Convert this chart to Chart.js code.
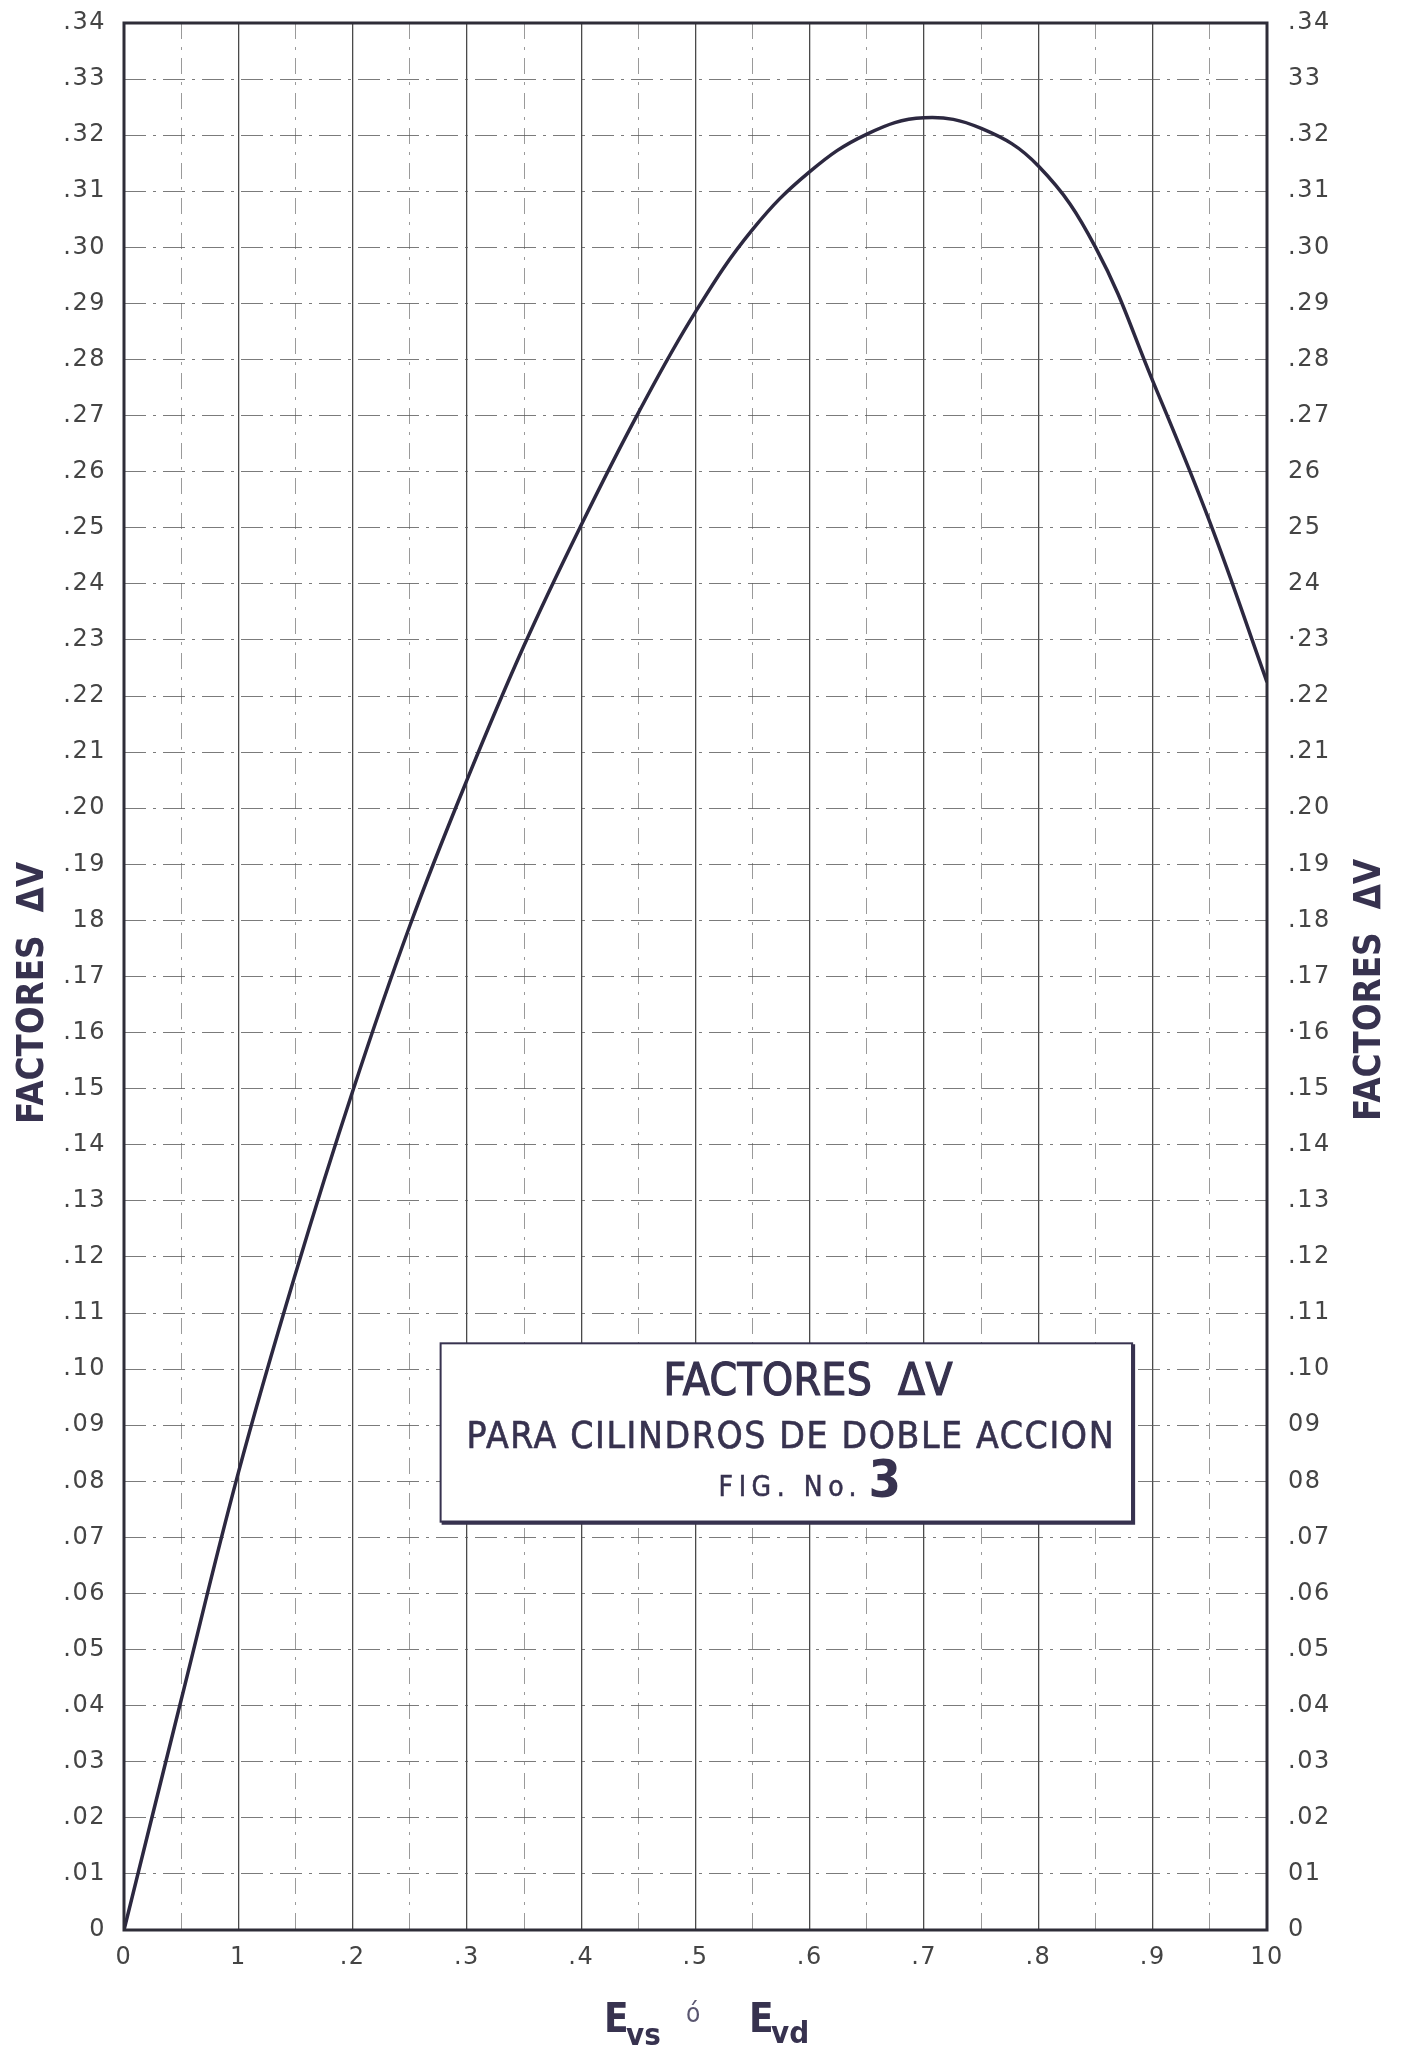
<!DOCTYPE html>
<html>
<head>
<meta charset="utf-8">
<script src="https://cdn.jsdelivr.net/npm/chart.js@4.4.1/dist/chart.umd.min.js"></script>
<style>
html,body{margin:0;padding:0;background:#fff;}
#wrap{width:1403px;height:2047px;position:relative;}
canvas{display:block;}
</style>
</head>
<body>
<div id="wrap"><canvas id="c" width="1403" height="2047"></canvas></div>
<script>
// ---- data ----
const xValues = [0, 0.05, 0.10, 0.15, 0.20, 0.25, 0.30, 0.35, 0.40, 0.45, 0.50, 0.55, 0.60, 0.65, 0.70, 0.75, 0.80, 0.85, 0.90, 0.95, 1.00];
const yValues = [0, 0.0410, 0.0815, 0.1170, 0.1495, 0.1790, 0.2050, 0.2290, 0.2505, 0.2705, 0.2885, 0.3032, 0.3135, 0.3202, 0.3231, 0.3212, 0.3145, 0.3000, 0.2762, 0.2510, 0.2225];
const xTickLabels = ['0', '1', '.2', '.3', '.4', '.5', '.6', '.7', '.8', '.9', '10'];
const yTickLabelsLeft = ['0', '.01', '.02', '.03', '.04', '.05', '.06', '.07', '.08', '.09', '.10', '.11', '.12', '.13', '.14', '.15', '.16', '.17', '18', '.19', '.20', '.21', '.22', '.23', '.24', '.25', '.26', '.27', '.28', '.29', '.30', '.31', '.32', '.33', '.34'];
const yTickLabelsRight = ['0', '01', '.02', '.03', '.04', '.05', '.06', '.07', '08', '09', '.10', '.11', '.12', '.13', '.14', '.15', '·16', '.17', '.18', '.19', '.20', '.21', '.22', '·23', '24', '25', '26', '.27', '.28', '.29', '.30', '.31', '.32', '33', '.34'];
const yAxisTitle = 'FACTORES  ΔV';
const xTitleMain = 'E';
const xTitleSub1 = 'vs';
const xTitleJoin = 'ó';
const xTitleSub2 = 'vd';
const boxTitle = 'FACTORES  ΔV';
const boxSubtitle = 'PARA CILINDROS DE DOBLE ACCION';
const boxFigLabel = 'FIG. No.';
const boxFigNumber = '3';

// ---- styling / layout ----
const INK = '#37324f';
const CURVE = '#2c2840';
const TICKFONT = '"DejaVu Sans", sans-serif';
const COND = '"DejaVu Sans Condensed", "Liberation Sans Narrow", "DejaVu Sans", sans-serif';
const BOX = {x0: 0.277, x1: 0.882, y0: 0.0728, y1: 0.1046};

const points = xValues.map((x, i) => ({x: x, y: yValues[i]}));

function fitText(ctx, text, cx, baseline, width) {
  ctx.letterSpacing = '0px';
  const m = ctx.measureText(text).width;
  ctx.save();
  ctx.translate(cx, baseline);
  ctx.scale(width / m, 1);
  ctx.textAlign = 'center';
  ctx.textBaseline = 'alphabetic';
  ctx.fillText(text, 0, 0);
  ctx.restore();
}

function spacedText(ctx, text, left, baseline, width, strokeW) {
  ctx.letterSpacing = '0px';
  const m = ctx.measureText(text).width;
  const n = text.length;
  const sp = (width - m) / (n - 1);
  ctx.save();
  ctx.textAlign = 'left';
  ctx.textBaseline = 'alphabetic';
  if (sp >= 0) {
    ctx.letterSpacing = sp.toFixed(2) + 'px';
    ctx.fillText(text, left, baseline);
    if (strokeW) { ctx.lineWidth = strokeW; ctx.strokeText(text, left, baseline); }
  } else {
    ctx.translate(left, baseline);
    ctx.scale(width / m, 1);
    ctx.fillText(text, 0, 0);
    if (strokeW) { ctx.lineWidth = strokeW; ctx.strokeText(text, 0, 0); }
  }
  ctx.restore();
  ctx.letterSpacing = '0px';
}

const spacingPlugin = {
  id: 'spacing',
  beforeDraw(chart) { chart.ctx.letterSpacing = '1.5px'; }
};

const decorPlugin = {
  id: 'decor',
  afterDatasetsDraw(chart) {
    const {ctx, chartArea: a, scales} = chart;
    ctx.save();
    ctx.letterSpacing = '0px';
    // frame
    ctx.strokeStyle = '#2e2d38';
    ctx.lineWidth = 3;
    ctx.strokeRect(a.left, a.top, a.right - a.left, a.bottom - a.top);

    // title box
    const bl = scales.x.getPixelForValue(BOX.x0), br = scales.x.getPixelForValue(BOX.x1);
    const bt = scales.y.getPixelForValue(BOX.y1), bb = scales.y.getPixelForValue(BOX.y0);
    ctx.fillStyle = '#fff';
    ctx.fillRect(bl, bt, br - bl, bb - bt);
    ctx.strokeStyle = INK;
    ctx.lineWidth = 2;
    ctx.strokeRect(bl, bt, br - bl, bb - bt);
    ctx.lineWidth = 4;
    ctx.beginPath();
    ctx.moveTo(br + 1, bt + 1);
    ctx.lineTo(br + 1, bb + 1);
    ctx.lineTo(bl + 1, bb + 1);
    ctx.stroke();

    ctx.fillStyle = INK;
    ctx.strokeStyle = INK;
    ctx.font = '44px ' + COND;
    spacedText(ctx, boxTitle, bl + 223, bt + 52, 289, 1.2);
    ctx.font = '37px ' + COND;
    spacedText(ctx, boxSubtitle, bl + 26, bt + 105, 647, 0.6);
    ctx.font = '28px ' + COND;
    spacedText(ctx, boxFigLabel, bl + 278, bt + 153, 138, 0.5);
    ctx.font = 'bold 52px ' + COND;
    ctx.textAlign = 'left';
    ctx.fillText(boxFigNumber, bl + 428, bt + 154);

    // y axis titles (left and right), reading bottom to top
    ctx.font = 'bold 38px ' + COND;
    [[29, 993], [1366, 990]].forEach(([cx, cy]) => {
      ctx.save();
      ctx.translate(cx, cy);
      ctx.rotate(-Math.PI / 2);
      fitText(ctx, yAxisTitle, 0, 14, 262);
      ctx.restore();
    });

    // x axis title: E_vs ó E_vd
    ctx.letterSpacing = '0px';
    ctx.textAlign = 'left';
    ctx.font = 'bold 40px ' + COND;
    ctx.fillText(xTitleMain, 604, 2032);
    ctx.fillText(xTitleMain, 749, 2032);
    ctx.font = 'bold 31px ' + COND;
    ctx.fillText(xTitleSub1, 626, 2045);
    ctx.fillText(xTitleSub2, 771, 2043);
    ctx.font = '26px ' + COND;
    ctx.fillStyle = '#5a5670';
    ctx.fillText(xTitleJoin, 686, 2022);
    ctx.restore();
  }
};

new Chart(document.getElementById('c'), {
  type: 'line',
  data: {
    datasets: [{
      data: points,
      borderColor: CURVE,
      borderWidth: 3.5,
      pointRadius: 0,
      fill: false,
      tension: 0.4
    }]
  },
  options: {
    responsive: false,
    animation: false,
    devicePixelRatio: 1,
    layout: {padding: {top: 23, left: 0, right: 0, bottom: 0}},
    plugins: {legend: {display: false}, tooltip: {enabled: false}, title: {display: false}},
    scales: {
      x: {
        type: 'linear', min: 0, max: 1, position: 'bottom',
        ticks: {
          stepSize: 0.1, padding: 13, color: '#444',
          font: {family: TICKFONT, size: 24},
          maxRotation: 0, autoSkip: false,
          callback: (v) => xTickLabels[Math.round(v * 10)]
        },
        grid: {color: '#4a4a4a', lineWidth: 1.3, drawTicks: false},
        border: {display: false},
        afterFit: (s) => { s.height = 117; s.paddingLeft = 0; s.paddingRight = 0; }
      },
      xMinor: {
        type: 'linear', min: 0, max: 1, position: 'bottom',
        ticks: {display: false, stepSize: 0.05},
        grid: {
          drawTicks: false, lineWidth: 1,
          color: (c) => (Math.round(c.tick.value * 20) % 2 === 1) ? 'rgba(120,120,120,0.75)' : 'rgba(0,0,0,0)'
        },
        border: {display: false, dash: [16, 8, 3, 8]},
        afterFit: (s) => { s.height = 0; s.paddingLeft = 0; s.paddingRight = 0; }
      },
      y: {
        type: 'linear', min: 0, max: 0.34, position: 'left',
        ticks: {
          stepSize: 0.01, padding: 18, color: '#444',
          font: {family: TICKFONT, size: 24},
          autoSkip: false,
          callback: (v) => yTickLabelsLeft[Math.round(v * 100)]
        },
        grid: {color: 'rgba(90,90,90,0.8)', lineWidth: 1, drawTicks: false},
        border: {display: false, dash: [22, 7, 3, 7]},
        afterFit: (s) => { s.width = 124; s.paddingTop = 0; s.paddingBottom = 0; }
      },
      y2: {
        type: 'linear', min: 0, max: 0.34, position: 'right',
        ticks: {
          stepSize: 0.01, padding: 21, color: '#444',
          font: {family: TICKFONT, size: 24},
          autoSkip: false,
          callback: (v) => yTickLabelsRight[Math.round(v * 100)]
        },
        grid: {drawOnChartArea: false, drawTicks: false},
        border: {display: false},
        afterFit: (s) => { s.width = 136; s.paddingTop = 0; s.paddingBottom = 0; }
      }
    }
  },
  plugins: [spacingPlugin, decorPlugin]
});
</script>
</body>
</html>
